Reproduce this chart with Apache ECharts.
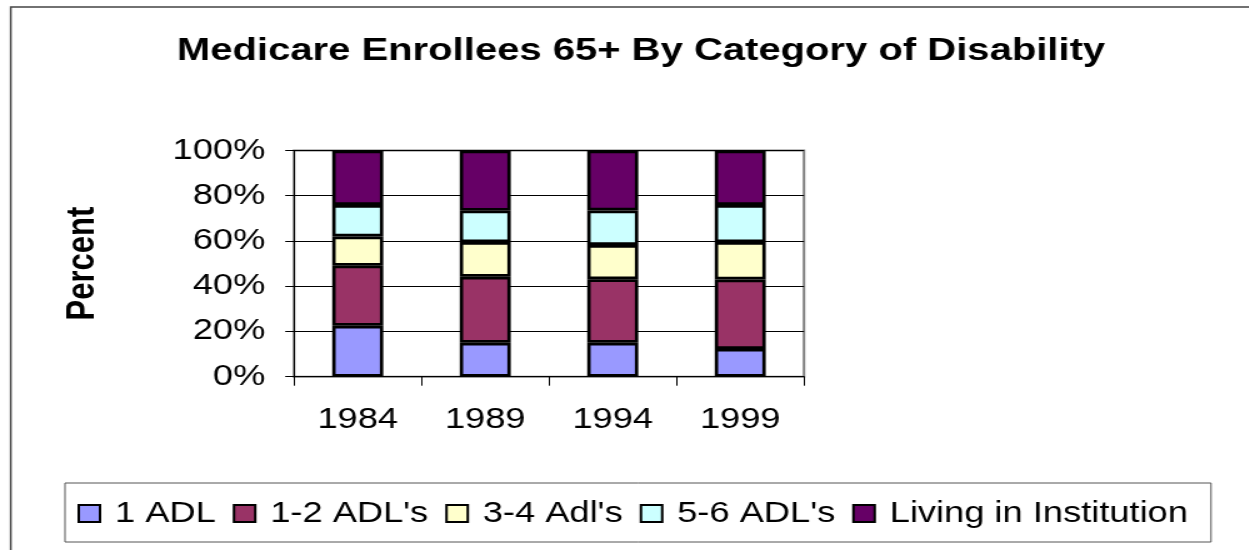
<!DOCTYPE html>
<html>
<head>
<meta charset="utf-8">
<script src="https://cdn.jsdelivr.net/npm/echarts@6/dist/echarts.min.js"></script>
<style>
  html, body { margin: 0; padding: 0; background: #fff; overflow: hidden; }
  #wrap { width: 1249px; height: 550px; overflow: hidden; }
  #chart { width: 999.2px; height: 550px; transform: scaleX(1.25); transform-origin: 0 0; }
</style>
</head>
<body>
<div id="wrap"><div id="chart"></div></div>
<script>
const categories = ['1984', '1989', '1994', '1999'];
const seriesNames = ['1 ADL', "1-2 ADL's", "3-4 Adl's", "5-6 ADL's", 'Living in Institution'];
const adl1 = [22.5, 15.0, 15.0, 12.3];
const adl12 = [26.6, 29.2, 28.1, 30.7];
const adl34 = [12.9, 15.3, 15.1, 16.5];
const adl56 = [13.9, 13.9, 15.3, 16.4];
const institution = [24.1, 26.6, 26.5, 24.1];
const yTicks = [0, 20, 40, 60, 80, 100];

const colors = ['#9999FF', '#993366', '#FFFFCC', '#CCFFFF', '#660066'];
const values = [adl1, adl12, adl34, adl56, institution];
const FONT = "'Liberation Sans', Arial, sans-serif";

const chart = echarts.init(document.getElementById('chart'), null, { renderer: 'canvas' });
chart.setOption({
  animation: false,
  backgroundColor: '#fff',
  textStyle: { fontFamily: FONT },
  title: {
    text: 'Medicare Enrollees 65+ By Category of Disability',
    left: 141.6,
    top: 35,
    padding: 0,
    textStyle: { fontFamily: FONT, fontSize: 32, fontWeight: 'bold', color: '#000' }
  },
  graphic: [
    { type: 'rect', shape: { x: 8.6, y: 7, width: 1200, height: 700 }, style: { fill: 'none', stroke: '#444', lineWidth: 1.5 }, silent: true, z: -10 },
    { type: 'rect', shape: { x: 52, y: 483, width: 916.8, height: 59 }, style: { fill: '#fff', stroke: '#555', lineWidth: 1 }, silent: true, z: -5 }
  ],
  legend: {
    data: seriesNames,
    left: 62,
    top: 499,
    padding: 0,
    itemGap: 13.6,
    itemWidth: 17,
    itemHeight: 17,
    icon: 'rect',
    itemStyle: { borderColor: '#000', borderWidth: 2 },
    textStyle: { fontFamily: FONT, fontSize: 29, color: '#000', padding: [0, 0, 0, 7] }
  },
  grid: {
    left: 235.2,
    top: 150.5,
    width: 408,
    height: 226.2,
    show: true,
    borderColor: '#808080',
    borderWidth: 2,
    backgroundColor: '#fff'
  },
  xAxis: {
    type: 'category',
    data: categories,
    axisLine: { lineStyle: { color: '#000', width: 1 } },
    axisTick: { show: true, length: 9, lineStyle: { color: '#000' } },
    axisLabel: { fontFamily: FONT, fontSize: 29, color: '#000', margin: 29 },
    splitLine: { show: false }
  },
  yAxis: {
    type: 'value',
    min: yTicks[0],
    max: yTicks[yTicks.length - 1],
    interval: 20,
    name: 'Percent',
    nameLocation: 'middle',
    nameGap: 153,
    nameRotate: 90,
    nameTextStyle: { fontFamily: FONT, fontSize: 31, fontWeight: 'bold', color: '#000' },
    axisLine: { show: true, lineStyle: { color: '#000', width: 1 } },
    axisTick: { show: true, length: 7, lineStyle: { color: '#000' } },
    axisLabel: { fontFamily: FONT, fontSize: 29, color: '#000', margin: 23, formatter: '{value}%' },
    splitLine: { show: true, lineStyle: { color: '#000', width: 1 } }
  },
  series: seriesNames.map((name, i) => ({
    name: name,
    type: 'bar',
    stack: 'total',
    barWidth: '40%',
    data: values[i],
    itemStyle: { color: colors[i], borderColor: '#000', borderWidth: 2.7 }
  }))
});
</script>
</body>
</html>
